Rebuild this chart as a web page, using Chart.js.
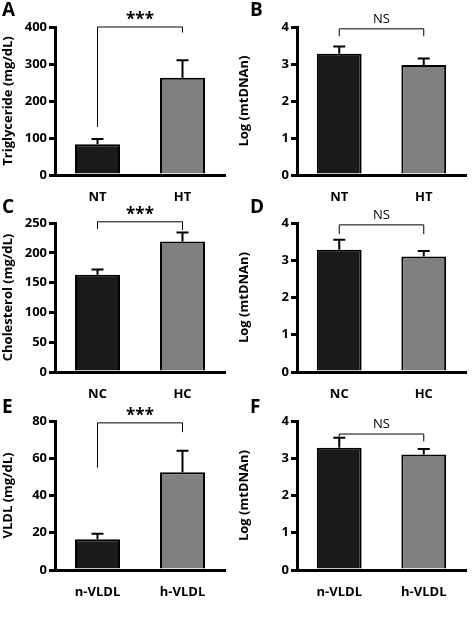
<!DOCTYPE html><html><head><script src="https://cdn.jsdelivr.net/npm/chart.js"></script>
<style>body{margin:0;background:#fff;width:472px;height:619px;position:relative;overflow:hidden;font-family:"Open Sans",sans-serif}
canvas{position:absolute}.L{position:absolute;font:bold 19px "Open Sans",sans-serif;z-index:2}</style></head><body>
<div class="L" style="left:2px;top:-4px">A</div><div class="L" style="left:250px;top:-4px">B</div>
<div class="L" style="left:2px;top:193px">C</div><div class="L" style="left:250px;top:193px">D</div>
<div class="L" style="left:2px;top:393px">E</div><div class="L" style="left:250px;top:393px">F</div>
<script>
const catsA=["NT","HT"], catsC=["NC","HC"], catsE=["n-VLDL","h-VLDL"];
const valA=[83,263], errA=[97,310];
const valB=[3.28,2.97], errB=[3.47,3.15];
const valC=[163,219], errC=[172,234];
const valD=[3.28,3.1], errD=[3.55,3.25];
const valE=[16.5,52.5], errE=[19.5,64];
const valF=[3.28,3.1], errF=[3.55,3.25];
const panels=[
 {x:0,y:0,cats:catsA,v:valA,e:errA,max:400,step:100,title:"Triglyceride (mg/dL)",yw:55,pt:27,xh:31,pr:11,sig:"***",br:[400,130,385]},
 {x:236,y:0,cats:catsA,v:valB,e:errB,max:4,step:1,title:"Log (mtDNAn)",yw:61,pt:27,xh:31,pr:6,sig:"NS",br:[3.95,3.75,3.75]},
 {x:0,y:200,cats:catsC,v:valC,e:errC,max:250,step:50,title:"Cholesterol (mg/dL)",yw:55,pt:23,xh:34,pr:11,sig:"***",br:[252,240,238]},
 {x:236,y:200,cats:catsC,v:valD,e:errD,max:4,step:1,title:"Log (mtDNAn)",yw:61,pt:23,xh:34,pr:6,sig:"NS",br:[3.95,3.7,3.7]},
 {x:0,y:400,cats:catsE,v:valE,e:errE,max:80,step:20,title:"VLDL (mg/dL)",yw:55,pt:21,xh:36,pr:11,sig:"***",br:[79,55,74]},
 {x:236,y:400,cats:catsE,v:valF,e:errF,max:4,step:1,title:"Log (mtDNAn)",yw:61,pt:21,xh:36,pr:6,sig:"NS",br:[3.65,3.45,3.45]}
];
const deco={id:'deco',afterDatasetsDraw(c,a,o){const p=o.p,ctx=c.ctx,x=c.scales.x,y=c.scales.y;ctx.save();ctx.strokeStyle='#000';ctx.lineWidth=2;
 p.e.forEach((e,i)=>{const cx=x.getPixelForValue(i);ctx.beginPath();ctx.moveTo(cx,y.getPixelForValue(p.v[i]));ctx.lineTo(cx,y.getPixelForValue(e));ctx.moveTo(cx-6,y.getPixelForValue(e));ctx.lineTo(cx+6,y.getPixelForValue(e));ctx.stroke();});
 ctx.lineWidth=1;const x0=x.getPixelForValue(0),x1=x.getPixelForValue(1),yt=y.getPixelForValue(p.br[0]);
 ctx.beginPath();ctx.moveTo(x0,y.getPixelForValue(p.br[1]));ctx.lineTo(x0,yt);ctx.lineTo(x1,yt);ctx.lineTo(x1,y.getPixelForValue(p.br[2]));ctx.stroke();
 ctx.fillStyle='#000';ctx.textAlign='center';ctx.textBaseline='bottom';ctx.font=p.sig==='NS'?'13px "Open Sans"':'bold 17px "Open Sans"';
 ctx.fillText(p.sig,(x0+x1)/2,yt-(p.sig==='NS'?3:-2));ctx.restore();}};
panels.forEach(p=>{const cv=document.createElement('canvas');cv.width=236;cv.height=206;cv.style.left=p.x+'px';cv.style.top=p.y+'px';document.body.appendChild(cv);
 new Chart(cv,{type:'bar',data:{labels:p.cats,datasets:[{data:p.v,backgroundColor:['#1a1a1a','#808080'],borderColor:'#000',borderWidth:2,barPercentage:0.53,categoryPercentage:1}]},
 options:{responsive:false,animation:false,devicePixelRatio:1,layout:{padding:{top:p.pt,right:p.pr,left:0,bottom:0}},plugins:{legend:{display:false},tooltip:{enabled:false},deco:{p}},
 scales:{x:{grid:{display:false},border:{color:'#000',width:3},ticks:{color:'#000',font:{weight:'bold',size:13,family:'"Open Sans"'},padding:6},afterFit(s){s.height=p.xh}},
 y:{min:0,max:p.max,ticks:{stepSize:p.step,color:'#000',font:{weight:'bold',size:13,family:'"Open Sans"'},padding:2},grid:{drawOnChartArea:false,color:'#000',lineWidth:3,tickLength:6},border:{color:'#000',width:3},
 title:{display:true,text:p.title,color:'#000',font:{weight:'bold',size:13,family:'"Open Sans"'},padding:0},afterFit(s){s.width=p.yw}}}},plugins:[deco]});});
</script></body></html>
